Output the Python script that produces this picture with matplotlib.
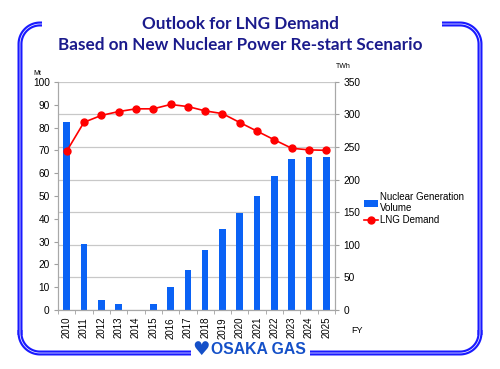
import matplotlib
matplotlib.use("Agg")
import matplotlib.pyplot as plt
import numpy as np

years = ["2010", "2011", "2012", "2013", "2014", "2015", "2016", "2017",
         "2018", "2019", "2020", "2021", "2022", "2023", "2024", "2025"]
nuclear_twh = [289, 102, 16, 9, 0, 9, 36, 61, 92, 124, 149, 175, 205, 231, 234, 234]
lng_mt = [69.6, 82.3, 85.3, 87.0, 88.2, 88.2, 90.1, 89.2, 87.3, 86.1, 82.2, 78.4, 74.6, 70.9, 70.2, 70.0]

plt.rcParams["font.family"] = ["Liberation Sans", "DejaVu Sans"]

fig = plt.figure(figsize=(5, 3.69), dpi=100)
ax = fig.add_axes([0.116, 0.16, 0.554, 0.618])
ax2 = ax.twinx()

x = np.arange(len(years))
bars = ax2.bar(x, nuclear_twh, width=0.38, color="#0a62f5", zorder=2)
line, = ax.plot(x, lng_mt, color="#ff0000", lw=1.2, marker="o", ms=5,
                zorder=5)

ax.set_zorder(ax2.get_zorder() + 1)
ax.patch.set_visible(False)

ax.set_xlim(-0.5, len(years) - 0.5)
ax.set_ylim(0, 100)
ax2.set_ylim(0, 350)
ax.set_yticks(range(0, 101, 10))
ax2.set_yticks(range(0, 351, 50))
ax2.yaxis.grid(True, color="#c8c8c8", lw=0.9, zorder=0)
ax2.set_axisbelow(True)

ax.set_xticks(x)
ax.set_xticklabels(years, rotation=90, fontsize=7)
ax.set_xticks(np.arange(-0.5, len(years), 1), minor=True)
ax.tick_params(axis="x", which="major", length=0, pad=5)
ax.tick_params(axis="x", which="minor", length=3, color="#a0a0a0")
ax.tick_params(axis="y", labelsize=7.3, length=3, color="#a0a0a0", pad=3)
ax2.tick_params(axis="y", labelsize=7.3, length=3, color="#a0a0a0", pad=3)

for a in (ax, ax2):
    a.spines["top"].set_visible(False)
    for s in ("left", "right", "bottom"):
        a.spines[s].set_color("#a8a8a8")
        a.spines[s].set_linewidth(0.8)

fig.text(0.066, 0.80, "Mt", fontsize=5, ha="left", va="center")
fig.text(0.672, 0.82, "TWh", fontsize=5, ha="left", va="center")
fig.text(0.702, 0.105, "FY", fontsize=6.5, ha="left", va="center")

fig.legend([bars, line], ["Nuclear Generation\nVolume", "LNG Demand"],
           loc="center left", bbox_to_anchor=(0.71, 0.435), frameon=False,
           fontsize=7, handlelength=1.5, handletextpad=0.15, labelspacing=0.2)

navy = "#1b1b8c"
fig.text(0.48, 0.935, "Outlook for LNG Demand", fontsize=12.3, fontweight="bold",
         color=navy, ha="center", va="center", family=["Lato", "DejaVu Sans"])
fig.text(0.48, 0.877, "Based on New Nuclear Power Re-start Scenario", fontsize=12.3,
         fontweight="bold", color=navy, ha="center", va="center",
         family=["Lato", "DejaVu Sans"])

# decorative frame (pixel coords)
def px(xp, yp):
    return np.asarray(xp) / 500, 1 - np.asarray(yp) / 369

r = 20
t = np.linspace(0, np.pi / 2, 30)
paths = []
# top-left
xs = np.concatenate([[20], 20 + r - r * np.cos(t), [42]])
ys = np.concatenate([[335], 24 + r - r * np.sin(t), [24]])
paths.append((xs, ys))
# top-right
xs = np.concatenate([[442], 480 - r + r * np.sin(t), [480]])
ys = np.concatenate([[24], 24 + r - r * np.cos(t), [335]])
paths.append((xs, ys))
# bottom-left
xs = np.concatenate([[20], 20 + r - r * np.cos(t), [191]])
ys = np.concatenate([[330], 353 - r + r * np.sin(t), [353]])
paths.append((xs, ys))
# bottom-right
xs = np.concatenate([[310], 480 - r + r * np.sin(t), [480]])
ys = np.concatenate([[353], 353 - r + r * np.cos(t), [330]])
paths.append((xs, ys))

for xp, yp in paths:
    fx, fy = px(xp, yp)
    fig.add_artist(plt.Line2D(fx, fy, color="#1a1aff", lw=3.6,
                              solid_capstyle="butt", transform=fig.transFigure))
    fig.add_artist(plt.Line2D(fx, fy, color="white", lw=0.5,
                              solid_capstyle="butt", transform=fig.transFigure))

logo_blue = "#1450c8"
fig.text(0.402, 0.054, "\u2665", fontsize=14, color=logo_blue,
         ha="center", va="center", family=["DejaVu Sans"])
fig.text(0.422, 0.054, "OSAKA GAS", fontsize=11.3, fontweight="bold",
         color=logo_blue, ha="left", va="center")

fig.savefig("out.png", dpi=100)
